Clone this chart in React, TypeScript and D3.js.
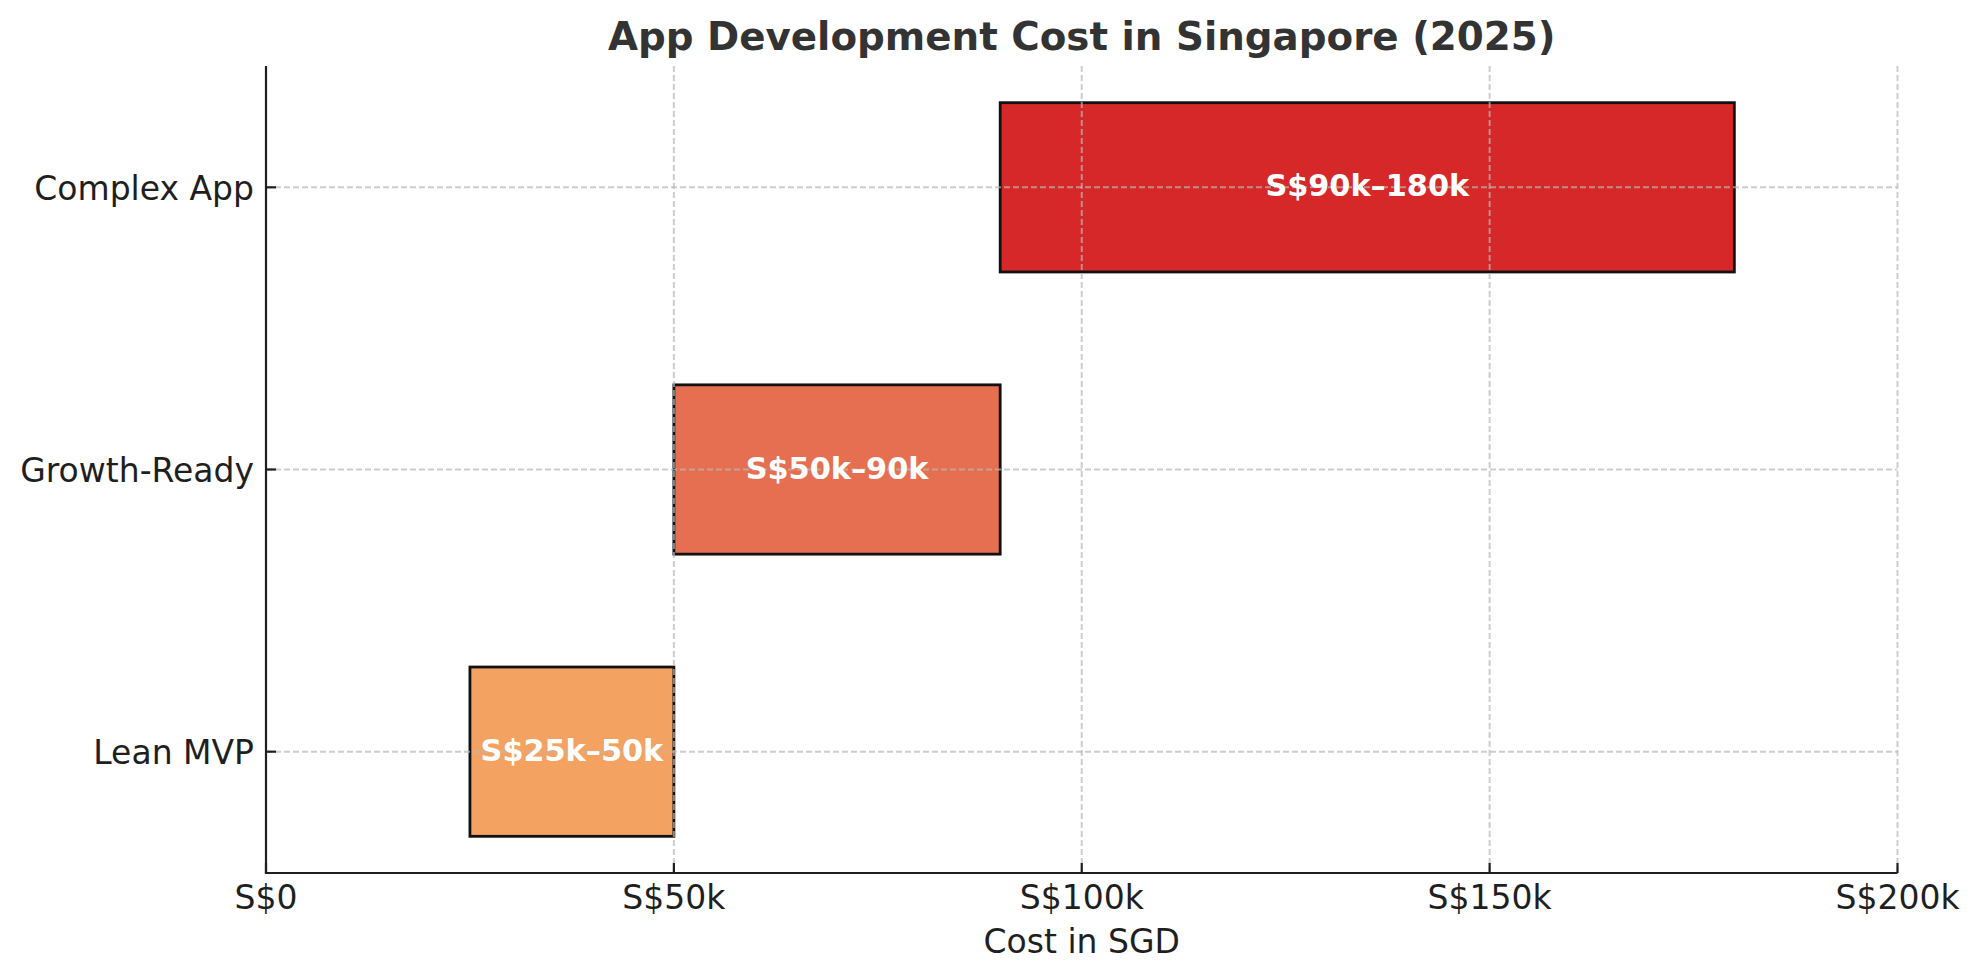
import React from "react";
import * as d3 from "d3";

const categories = ["Lean MVP", "Growth-Ready", "Complex App"];
const lowValues = [25000, 50000, 90000];
const highValues = [50000, 90000, 180000];
const barLabels = ["S$25k–50k", "S$50k–90k", "S$90k–180k"];
const barColors = ["#F4A261", "#E76F51", "#D62828"];
const xTicks = [0, 50000, 100000, 150000, 200000];
const xTickLabels = ["S$0", "S$50k", "S$100k", "S$150k", "S$200k"];
const title = "App Development Cost in Singapore (2025)";
const xAxisLabel = "Cost in SGD";

const W = 1979;
const H = 980;
const left = 266;
const right = 1897.5;
const top = 66;
const bottom = 873;
const barHeight = 0.6;

export default function App() {
  const x = d3.scaleLinear().domain([0, 200000]).range([left, right]);
  const y = d3.scaleLinear().domain([-0.43, 2.43]).range([bottom, top]);
  const font = "'DejaVu Sans', sans-serif";
  const tickColor = "#1f1f1f";

  return (
    <svg
      width={W}
      height={H}
      viewBox={`0 0 ${W} ${H}`}
      style={{ position: "absolute", left: 0, top: 0, background: "#fff" }}
      fontFamily={font}
    >
      <rect x={0} y={0} width={W} height={H} fill="#fff" />
      {/* bars */}
      {categories.map((c, i) => {
        const y0 = y(i + barHeight / 2);
        const y1 = y(i - barHeight / 2);
        return (
          <rect
            key={c}
            x={x(lowValues[i])}
            y={y0}
            width={x(highValues[i]) - x(lowValues[i])}
            height={y1 - y0}
            fill={barColors[i]}
            stroke="#111"
            strokeWidth={2.8}
          />
        );
      })}
      {/* grid */}
      {xTicks.map((t) => (
        <line
          key={"gx" + t}
          x1={x(t)}
          x2={x(t)}
          y1={top}
          y2={bottom}
          stroke="#b8b8b8"
          strokeOpacity={0.7}
          strokeWidth={2}
          strokeDasharray="6,3"
        />
      ))}
      {categories.map((c, i) => (
        <line
          key={"gy" + c}
          x1={left}
          x2={right}
          y1={y(i)}
          y2={y(i)}
          stroke="#b8b8b8"
          strokeOpacity={0.7}
          strokeWidth={2}
          strokeDasharray="6,3"
        />
      ))}
      {/* bar labels */}
      {categories.map((c, i) => (
        <text
          key={"bl" + c}
          x={x((lowValues[i] + highValues[i]) / 2)}
          y={y(i) + 9}
          textAnchor="middle"
          fill="#ffffff"
          fontWeight="bold"
          fontSize={30.3}
        >
          {barLabels[i]}
        </text>
      ))}
      {/* spines */}
      <line x1={left} x2={left} y1={top} y2={bottom} stroke={tickColor} strokeWidth={2.2} />
      <line x1={left - 1.1} x2={right} y1={bottom} y2={bottom} stroke={tickColor} strokeWidth={2.2} />
      {/* x ticks */}
      {xTicks.map((t, i) => (
        <g key={"xt" + t}>
          <line x1={x(t)} x2={x(t)} y1={bottom} y2={bottom - 10} stroke={tickColor} strokeWidth={2.2} />
          <text x={x(t)} y={908.5} textAnchor="middle" fontSize={33} fill={tickColor}>
            {xTickLabels[i]}
          </text>
        </g>
      ))}
      {/* y ticks */}
      {categories.map((c, i) => (
        <g key={"yt" + c}>
          <line x1={left} x2={left + 10} y1={y(i)} y2={y(i)} stroke={tickColor} strokeWidth={2.2} />
          <text x={254} y={y(i) + 12.5} textAnchor="end" fontSize={33} fill={tickColor}>
            {c}
          </text>
        </g>
      ))}
      <text x={(left + right) / 2} y={952.5} textAnchor="middle" fontSize={33} fill={tickColor}>
        {xAxisLabel}
      </text>
      <text
        x={(left + right) / 2}
        y={50}
        textAnchor="middle"
        fontSize={38.8}
        fontWeight="bold"
        fill="#333333"
      >
        {title}
      </text>
    </svg>
  );
}
